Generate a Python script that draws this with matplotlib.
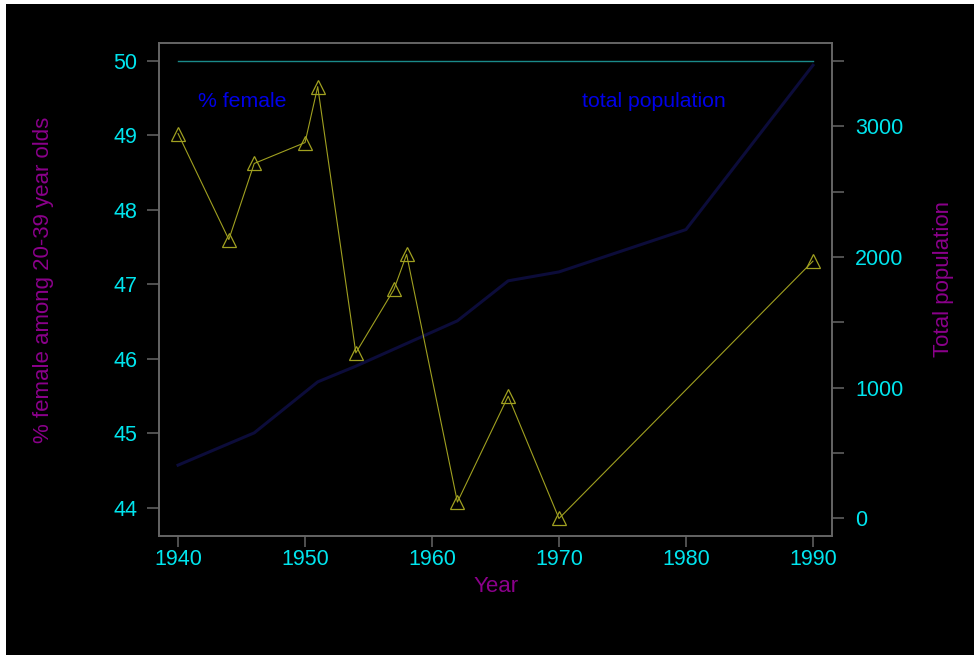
import matplotlib
matplotlib.use("Agg")
import matplotlib.pyplot as plt
from matplotlib.patches import Rectangle

plt.rcParams['font.family'] = ['Liberation Sans', 'DejaVu Sans']

# Data
years_female = [1940, 1944, 1946, 1950, 1951, 1954, 1957, 1958, 1962, 1966, 1970, 1990]
pct_female = [49.02, 47.6, 48.62, 48.9, 49.65, 46.08, 46.93, 47.4, 44.08, 45.5, 43.86, 47.31]

years_pop = [1940, 1946, 1951, 1954, 1962, 1966, 1970, 1980, 1990]
total_pop = [407, 654, 1044, 1164, 1511, 1817, 1885, 2209, 3466]

ref_years = [1940, 1990]
ref_level = [50, 50]

x_ticks = [1940, 1950, 1960, 1970, 1980, 1990]
left_ticks = [44, 45, 46, 47, 48, 49, 50]
right_ticks = [0, 500, 1000, 1500, 2000, 2500, 3000, 3500]
right_labels = ['0', '', '1000', '', '2000', '', '3000', '']

W, H = 974, 655
fig = plt.figure(figsize=(W / 100, H / 100), dpi=100)
fig.patch.set_facecolor('white')
fig.patches.append(Rectangle((6 / W, 0), 1 - 6 / W, 1 - 4 / H, transform=fig.transFigure,
                             facecolor='black', edgecolor='none', zorder=-10))

ax = fig.add_axes([159 / W, 1 - 536 / H, (832 - 159) / W, (536 - 43) / H])
ax.set_facecolor('black')
ax2 = ax.twinx()

tick_col = '#00e5ee'
lab_col = '#8b008b'
spine_col = '#666666'

ax2.plot(years_pop, total_pop, color='#0c0c3a', lw=2.2, zorder=1)
ax.set_zorder(ax2.get_zorder() + 1)
ax.patch.set_visible(False)
ax2.patch.set_facecolor('black')

ax.plot(ref_years, ref_level, color='#1a8a8a', lw=1.0)
ax.plot(years_female, pct_female, color='#a0a020', lw=0.8, marker='^', ms=10,
        mfc='none', mec='#a0a020', mew=0.9)

ax.set_xlim(1938.5, 1991.5)
ax.set_ylim(43.625, 50.235)
ax2.set_ylim(-135, 3636)

ax.set_xticks(x_ticks)
ax.set_yticks(left_ticks)
ax2.set_yticks(right_ticks)
ax2.set_yticklabels(right_labels)

for a in (ax, ax2):
    for s in a.spines.values():
        s.set_color(spine_col)
        s.set_linewidth(1.2)

ax.tick_params(axis='both', colors=spine_col, labelcolor=tick_col, labelsize=15.5,
               width=1.1)
ax.tick_params(axis='y', length=8.6, pad=7.2)
ax.tick_params(axis='x', length=7.9, pad=1.5)
ax2.tick_params(axis='y', colors=spine_col, labelcolor=tick_col, labelsize=15.5,
                width=1.1, length=8.6, pad=8)

ax.text(1941.6, 49.45, '% female', color='#0000e8', fontsize=15.3, va='center', ha='left')
ax.text(1971.8, 49.45, 'total population', color='#0000e8', fontsize=15.3, va='center', ha='left')

fig.text(44 / W, 1 - 280 / H, '% female among 20-39 year olds', rotation=90,
         color=lab_col, fontsize=16, ha='center', va='center')
fig.text(944 / W, 1 - 279 / H, 'Total population', rotation=90,
         color=lab_col, fontsize=16, ha='center', va='center')
fig.text(496 / W, 1 - 587 / H, 'Year', color=lab_col, fontsize=16, ha='center', va='center')

fig.savefig('out.png', dpi=100, facecolor=fig.get_facecolor())
